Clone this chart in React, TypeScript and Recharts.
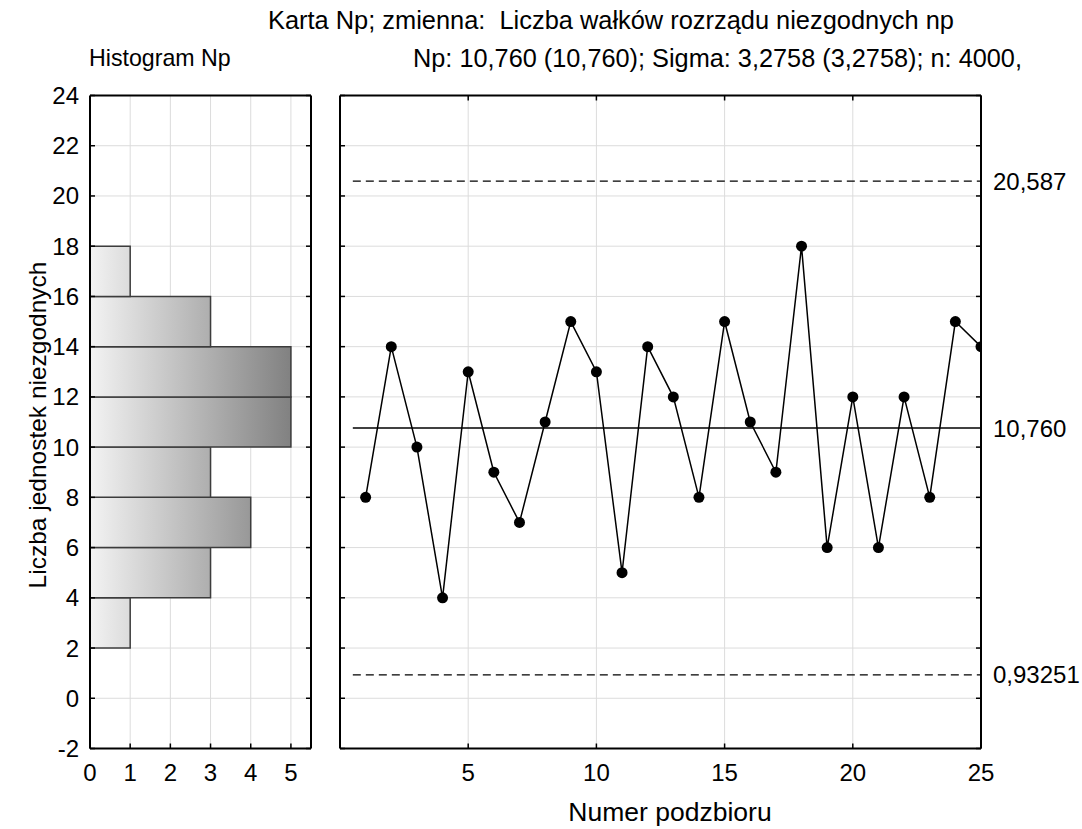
import React from 'react';
import {
  ComposedChart,
  XAxis,
  YAxis,
  CartesianGrid,
  ReferenceArea,
  ReferenceLine,
  Line,
} from 'recharts';

// ---- data ----
const subgroupNumbers = [1, 2, 3, 4, 5, 6, 7, 8, 9, 10, 11, 12, 13, 14, 15, 16, 17, 18, 19, 20, 21, 22, 23, 24, 25];
const npValues = [8, 14, 10, 4, 13, 9, 7, 11, 15, 13, 5, 14, 12, 8, 15, 11, 9, 18, 6, 12, 6, 12, 8, 15, 14];
const limitValues = [0.93251, 10.76, 20.587];
const limitLabels = ['0,93251', '10,760', '20,587'];
const yTicks = [-2, 0, 2, 4, 6, 8, 10, 12, 14, 16, 18, 20, 22, 24];
const histXTicks = [0, 1, 2, 3, 4, 5];
const chartXTicks = [5, 10, 15, 20, 25];
const binStarts = [2, 4, 6, 8, 10, 12, 14, 16];
const binCounts = [1, 3, 4, 3, 5, 5, 3, 1];
const BIN_WIDTH = 2;
const LINE_START = 0.5;

const titleText = 'Karta Np; zmienna:  Liczba wałków rozrządu niezgodnych np';
const histTitle = 'Histogram Np';
const statsText = 'Np: 10,760 (10,760); Sigma: 3,2758 (3,2758); n: 4000,';
const yAxisTitle = 'Liczba jednostek niezgodnych';
const xAxisTitle = 'Numer podzbioru';

const chartData = subgroupNumbers.map((n, i) => ({ n, v: npValues[i] }));

const FONT = '"Liberation Sans", Arial, sans-serif';
const FS = 24;
const W = 1082;
const H = 829;

const HIST_DOMAIN: [number, number] = [0, 5.5];
const CHART_DOMAIN: [number, number] = [0, 25];
const Y_DOMAIN: [number, number] = [-2, 24];

const tickStyle = { fontSize: FS, fill: '#000', fontFamily: FONT };
const axisLineStyle = { stroke: '#000', strokeWidth: 2 };
const tickLineStyle = { stroke: '#000', strokeWidth: 1.5 };
const empty = () => '';

const grayFor = (count: number) => {
  const g = Math.round(242 - count * 22.6);
  return `rgb(${g},${g},${g})`;
};

const AX = 1;
const PLOT_TOP = 95.5;
const PLOT_BOTTOM = 748.5;
const HIST_LEFT = 90;
const HIST_RIGHT = 311;
const CHART_LEFT = 340;
const CHART_RIGHT = 981;
const TICK_PX = 5;

const vMargin = { top: PLOT_TOP - AX, bottom: H - PLOT_BOTTOM - AX };
const LEFT_MARGIN = { left: HIST_LEFT - AX, right: W - HIST_RIGHT, ...vMargin };
const RIGHT_MARGIN = { left: CHART_LEFT - AX, right: W - CHART_RIGHT, ...vMargin };

const histTickLen = (TICK_PX * (HIST_DOMAIN[1] - HIST_DOMAIN[0])) / (HIST_RIGHT - HIST_LEFT);
const chartTickLen = (TICK_PX * (CHART_DOMAIN[1] - CHART_DOMAIN[0])) / (CHART_RIGHT - CHART_LEFT);

const overlay: React.CSSProperties = { position: 'absolute', left: 0, top: 0 };

function rightBorder(xMax: number, tickLen: number, key: string) {
  return [
    <ReferenceLine key={`${key}-b`} x={xMax} stroke="#000" strokeWidth={2} ifOverflow="visible" />,
    ...yTicks.map((t) => (
      <ReferenceLine
        key={`${key}-t${t}`}
        segment={[{ x: xMax - tickLen, y: t }, { x: xMax, y: t }]}
        stroke="#000"
        strokeWidth={1.5}
        ifOverflow="visible"
      />
    )),
  ];
}

export default function App() {
  return (
    <div style={{ position: 'absolute', left: 0, top: 0, width: W, height: H, background: '#fff', fontFamily: FONT }}>
      {/* Histogram panel */}
      <div style={overlay}>
        <ComposedChart width={W} height={H} margin={LEFT_MARGIN} data={chartData}>
          <defs>
            {binCounts.map((c, i) => (
              <linearGradient key={i} id={`hg${i}`} x1="0" y1="0" x2="1" y2="0">
                <stop offset="0%" stopColor="#f3f3f3" />
                <stop offset="100%" stopColor={grayFor(c)} />
              </linearGradient>
            ))}
          </defs>
          <CartesianGrid stroke="#dcdcdc" strokeWidth={1} />
          <XAxis
            type="number"
            dataKey="n"
            domain={HIST_DOMAIN}
            ticks={histXTicks}
            allowDataOverflow
            height={AX}
            tickSize={-5}
            tickMargin={20}
            axisLine={axisLineStyle}
            tickLine={tickLineStyle}
            tick={tickStyle}
            interval={0}
          />
          <XAxis
            xAxisId="top"
            orientation="top"
            type="number"
            dataKey="n"
            domain={HIST_DOMAIN}
            ticks={histXTicks}
            allowDataOverflow
            height={AX}
            axisLine={axisLineStyle}
            tickLine={false}
            tickFormatter={empty}
            interval={0}
          />
          <YAxis
            type="number"
            domain={Y_DOMAIN}
            ticks={yTicks}
            allowDataOverflow
            width={AX}
            tickSize={-5}
            tickMargin={16}
            axisLine={axisLineStyle}
            tickLine={tickLineStyle}
            tick={tickStyle}
            interval={0}
          />
          {binStarts.map((lo, i) => (
            <ReferenceArea
              key={i}
              x1={0}
              x2={binCounts[i]}
              y1={lo}
              y2={lo + BIN_WIDTH}
              fill={`url(#hg${i})`}
              fillOpacity={1}
              stroke="#3c3c3c"
              strokeWidth={1.5}
              ifOverflow="extendDomain"
            />
          ))}
          {rightBorder(HIST_DOMAIN[1], histTickLen, 'h')}
        </ComposedChart>
      </div>

      {/* Control chart panel */}
      <div style={overlay}>
        <ComposedChart width={W} height={H} margin={RIGHT_MARGIN} data={chartData}>
          <CartesianGrid stroke="#dcdcdc" strokeWidth={1} />
          <XAxis
            type="number"
            dataKey="n"
            domain={CHART_DOMAIN}
            ticks={chartXTicks}
            allowDataOverflow
            height={AX}
            tickSize={-5}
            tickMargin={20}
            axisLine={axisLineStyle}
            tickLine={tickLineStyle}
            tick={tickStyle}
            interval={0}
          />
          <XAxis
            xAxisId="top"
            orientation="top"
            type="number"
            dataKey="n"
            domain={CHART_DOMAIN}
            ticks={chartXTicks}
            allowDataOverflow
            height={AX}
            tickSize={-5}
            axisLine={axisLineStyle}
            tickLine={tickLineStyle}
            tickFormatter={empty}
            interval={0}
          />
          <YAxis
            type="number"
            domain={Y_DOMAIN}
            ticks={yTicks}
            allowDataOverflow
            width={AX}
            tickSize={-5}
            axisLine={axisLineStyle}
            tickLine={tickLineStyle}
            tickFormatter={empty}
            interval={0}
          />
          {rightBorder(CHART_DOMAIN[1], chartTickLen, 'c')}
          {limitValues.map((v, i) => (
            <ReferenceLine
              key={`lim${i}`}
              segment={[{ x: LINE_START, y: v }, { x: CHART_DOMAIN[1], y: v }]}
              stroke="#000"
              strokeWidth={i === 1 ? 1.5 : 1.3}
              strokeDasharray={i === 1 ? undefined : '8 5'}
              ifOverflow="visible"
              label={{
                value: limitLabels[i],
                position: 'right',
                offset: 12,
                fill: '#000',
                fontSize: FS,
                fontFamily: FONT,
              }}
            />
          ))}
          <Line
            type="linear"
            dataKey="v"
            stroke="#000"
            strokeWidth={1.5}
            dot={{ r: 5.5, fill: '#000', stroke: '#000', strokeWidth: 0 }}
            isAnimationActive={false}
          />
        </ComposedChart>
      </div>

      {/* Titles */}
      <svg width={W} height={H} style={{ position: 'absolute', left: 0, top: 0, pointerEvents: 'none' }}>
        <g fontFamily={FONT} fill="#000" style={{ whiteSpace: 'pre' }}>
          <text x={611} y={20} fontSize={25.4} textAnchor="middle" dominantBaseline="central" xmlSpace="preserve">{titleText}</text>
          <text x={89} y={58} fontSize={23.2} textAnchor="start" dominantBaseline="central">{histTitle}</text>
          <text x={413} y={58} fontSize={25.3} textAnchor="start" dominantBaseline="central">{statsText}</text>
          <text x={670} y={812} fontSize={26.5} textAnchor="middle" dominantBaseline="central">{xAxisTitle}</text>
          <text x={37} y={425} fontSize={24.5} textAnchor="middle" dominantBaseline="central" transform="rotate(-90 37 425)">
            {yAxisTitle}
          </text>
        </g>
      </svg>
    </div>
  );
}
